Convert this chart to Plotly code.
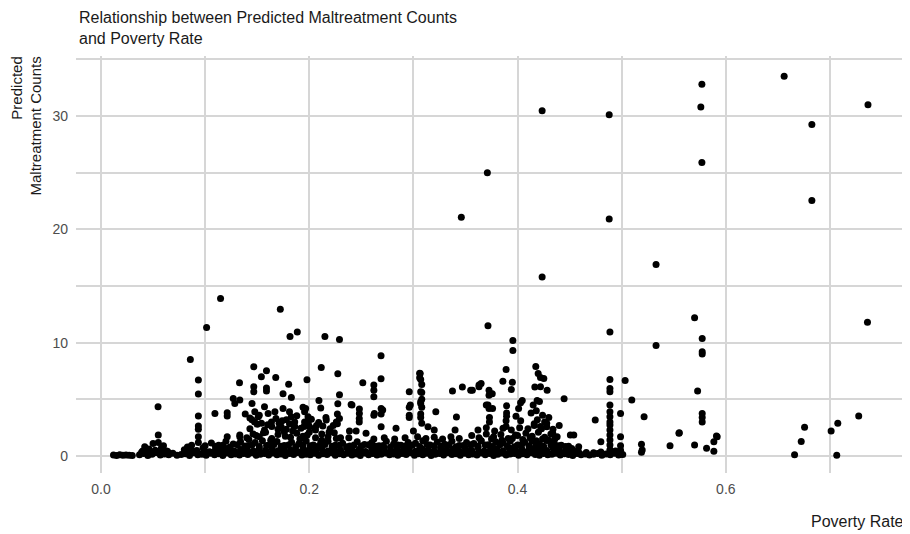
import plotly.graph_objects as go

# ---------------- data ----------------
# Tall outliers
high_x = [0.1148, 0.1014, 0.0858, 0.1722, 0.1815, 0.1885, 0.2150, 0.2290, 0.2689, 0.3716,
          0.3955, 0.3955, 0.4887, 0.5330, 0.5700, 0.5773, 0.5773, 0.5773, 0.3460, 0.3710,
          0.4236, 0.4236, 0.4880, 0.4880, 0.5330, 0.5770, 0.5760, 0.5770, 0.6560, 0.6826,
          0.6826, 0.7365, 0.7360]
high_y = [13.89, 11.34, 8.52, 12.95, 10.54, 10.93, 10.54, 10.28, 8.84, 11.50,
          10.19, 9.31, 10.95, 9.75, 12.20, 10.37, 9.00, 9.20, 21.06, 25.00,
          30.46, 15.80, 30.10, 20.90, 16.90, 32.80, 30.80, 25.90, 33.50, 29.25,
          22.55, 31.00, 11.80]

# Middle band (roughly 2 to 8)
mid_x = [0.0548, 0.0935, 0.0935, 0.0935, 0.0935, 0.0935, 0.1094, 0.1212, 0.1212, 0.1270,
         0.1333, 0.1285, 0.1330, 0.1467, 0.1467, 0.1467, 0.1385, 0.1430, 0.1475, 0.1589,
         0.1540, 0.1678, 0.1589, 0.1589, 0.1802, 0.1748, 0.1828, 0.2093, 0.2290, 0.2274,
         0.2110, 0.1965, 0.2402, 0.2481, 0.2481, 0.2620, 0.2690, 0.2690, 0.2163, 0.2270,
         0.2290, 0.2260, 0.2480, 0.2480, 0.2115, 0.2274, 0.2689, 0.1978, 0.2514, 0.2620,
         0.2620, 0.2620, 0.2960, 0.2960, 0.2960, 0.3060, 0.3060, 0.1450, 0.1570, 0.1605,
         0.1748, 0.1810, 0.1828, 0.1860, 0.1860, 0.1730, 0.1477, 0.1510, 0.1637, 0.1680,
         0.1780, 0.1541, 0.1940, 0.1955, 0.1988, 0.1955, 0.2000, 0.2070, 0.3890, 0.4175,
         0.4198, 0.4220, 0.4252, 0.3859, 0.3940, 0.4166, 0.4284, 0.4447, 0.4029, 0.3895,
         0.3726, 0.3726, 0.3716, 0.3726, 0.3650, 0.3630, 0.3566, 0.3470, 0.3375, 0.3413,
         0.3215, 0.3065, 0.3070, 0.3070, 0.3070, 0.3070, 0.3080, 0.3070, 0.3070, 0.2970,
         0.3140, 0.3200, 0.3730, 0.3730, 0.3890, 0.3890, 0.3985, 0.4010, 0.4280, 0.4030,
         0.4150, 0.4180, 0.4210, 0.4240, 0.4190, 0.4260, 0.4160, 0.4230, 0.4300, 0.4130,
         0.2410, 0.2625, 0.2705, 0.2690, 0.2833, 0.2960, 0.3080, 0.3080, 0.3080, 0.3080,
         0.3550, 0.3630, 0.3757, 0.3700, 0.3760, 0.3895, 0.3895, 0.4045, 0.4887, 0.4887,
         0.4887, 0.4887, 0.4887, 0.4887, 0.4887, 0.4887, 0.4887, 0.5033, 0.5097, 0.4989,
         0.4746, 0.5215, 0.5729, 0.5773, 0.5773, 0.5773, 0.5550, 0.6756, 0.7011, 0.7075,
         0.7276, 0.3950, 0.4220, 0.4188]
mid_y = [4.34, 6.70, 5.46, 3.52, 2.64, 2.35, 3.76, 3.81, 3.52, 5.08,
         4.93, 4.64, 6.46, 7.87, 6.10, 5.67, 3.70, 3.35, 3.00, 7.52,
         6.99, 6.93, 6.00, 5.73, 6.32, 5.49, 5.17, 4.90, 5.40, 4.60,
         4.23, 4.20, 4.55, 4.14, 3.76, 3.60, 4.20, 3.70, 3.17, 3.70,
         3.30, 3.00, 3.30, 3.00, 7.81, 7.25, 6.81, 6.72, 6.46, 6.26,
         5.81, 5.22, 5.67, 4.30, 3.40, 7.30, 6.90, 4.64, 4.34, 3.76,
         4.20, 3.90, 3.46, 3.00, 2.60, 2.58, 3.90, 3.46, 3.00, 3.30,
         3.20, 2.90, 4.30, 3.90, 3.46, 3.00, 2.60, 2.70, 7.64, 7.90,
         7.28, 6.93, 6.84, 6.60, 5.87, 6.08, 5.81, 5.05, 4.70, 4.43,
         5.81, 5.37, 4.49, 4.20, 6.40, 6.10, 5.81, 6.08, 5.73, 3.44,
         3.90, 7.28, 6.75, 5.67, 4.78, 4.64, 4.30, 3.70, 3.40, 4.49,
         2.58, 2.29, 3.40, 3.00, 3.10, 2.60, 3.50, 4.20, 2.58, 3.10,
         4.50, 4.00, 4.80, 3.60, 3.20, 3.00, 2.70, 2.40, 3.40, 3.80,
         4.49, 3.76, 4.05, 2.58, 2.44, 3.60, 6.30, 5.60, 5.00, 2.90,
         5.80, 6.26, 5.50, 4.50, 4.20, 3.80, 3.50, 4.90, 6.75, 5.96,
         5.67, 4.49, 3.90, 3.46, 3.00, 2.73, 2.29, 6.67, 4.93, 3.76,
         3.17, 3.46, 5.73, 3.76, 3.40, 3.00, 2.00, 2.53, 2.20, 2.88,
         3.52, 6.50, 6.10, 4.90]

# Lowest row, values near zero
base_x = [0.012, 0.015, 0.018, 0.021, 0.024, 0.027, 0.030,
          0.037, 0.041, 0.045, 0.049, 0.053, 0.057, 0.061, 0.065, 0.069, 0.073,
          0.077, 0.081, 0.085, 0.089, 0.093, 0.097, 0.101, 0.105, 0.109, 0.113,
          0.117, 0.121, 0.125, 0.129, 0.133, 0.137, 0.141, 0.145, 0.149, 0.153,
          0.157, 0.161, 0.165, 0.169, 0.173, 0.177, 0.181, 0.185, 0.189, 0.193,
          0.197, 0.201, 0.205, 0.209, 0.213, 0.217, 0.221, 0.225, 0.229, 0.233,
          0.237, 0.241, 0.245, 0.249, 0.253, 0.257, 0.261, 0.265, 0.269, 0.273,
          0.277, 0.281, 0.285, 0.289, 0.293, 0.297, 0.301, 0.305, 0.309, 0.313,
          0.317, 0.321, 0.325, 0.329, 0.333, 0.337, 0.341, 0.345, 0.349, 0.353,
          0.357, 0.361, 0.365, 0.369, 0.373, 0.377, 0.381, 0.385, 0.389, 0.393,
          0.397, 0.401, 0.405, 0.409, 0.413, 0.417, 0.421, 0.425, 0.429, 0.433,
          0.437, 0.441, 0.445, 0.449, 0.453, 0.457, 0.461, 0.465, 0.469, 0.473,
          0.477, 0.481, 0.485, 0.489, 0.493, 0.497, 0.501]
base_y = [0.08, 0.05, 0.10, 0.06, 0.09, 0.07, 0.05,
          0.10, 0.22, 0.05, 0.15, 0.30, 0.08, 0.18, 0.12, 0.25, 0.06,
          0.14, 0.20, 0.04, 0.28, 0.10, 0.16, 0.07, 0.24, 0.12, 0.19,
          0.05, 0.26, 0.11, 0.17, 0.08, 0.22, 0.13, 0.29, 0.06, 0.15,
          0.21, 0.09, 0.27, 0.12, 0.18, 0.05, 0.23, 0.14, 0.30, 0.08,
          0.16, 0.11, 0.25, 0.07, 0.20, 0.13, 0.28, 0.06, 0.19, 0.10,
          0.24, 0.09, 0.17, 0.04, 0.26, 0.12, 0.21, 0.08, 0.15, 0.27,
          0.10, 0.18, 0.06, 0.23, 0.14, 0.29, 0.07, 0.20, 0.11, 0.25,
          0.05, 0.16, 0.22, 0.09, 0.28, 0.13, 0.19, 0.06, 0.24, 0.10,
          0.17, 0.08, 0.26, 0.12, 0.21, 0.05, 0.15, 0.27, 0.09, 0.18,
          0.23, 0.07, 0.20, 0.11, 0.29, 0.14, 0.06, 0.22, 0.10, 0.16,
          0.25, 0.08, 0.19, 0.13, 0.04, 0.21, 0.12, 0.18, 0.09, 0.15,
          0.22, 0.06, 0.17, 0.11, 0.24, 0.08, 0.14]

# Second row (about 0.4 - 0.75)
row2_x = [0.040, 0.046, 0.052, 0.058, 0.064,
          0.080, 0.086, 0.092, 0.098, 0.104, 0.110, 0.116, 0.122, 0.128, 0.134,
          0.140, 0.146, 0.152, 0.158, 0.164, 0.170, 0.176, 0.182, 0.188, 0.194,
          0.200, 0.206, 0.212, 0.218, 0.224, 0.230, 0.236, 0.242, 0.248, 0.254,
          0.260, 0.266, 0.272, 0.278, 0.284, 0.290, 0.296, 0.302, 0.308, 0.314,
          0.320, 0.326, 0.332, 0.338, 0.344, 0.350, 0.356, 0.362, 0.368, 0.374,
          0.380, 0.386, 0.392, 0.398, 0.404, 0.410, 0.416, 0.422, 0.428, 0.434,
          0.440, 0.446, 0.452, 0.458, 0.489, 0.494]
row2_y = [0.45, 0.62, 0.50, 0.70, 0.40,
          0.55, 0.65, 0.48, 0.72, 0.38, 0.60, 0.52, 0.68, 0.44, 0.58,
          0.70, 0.42, 0.63, 0.50, 0.75, 0.46, 0.66, 0.54, 0.40, 0.71,
          0.57, 0.49, 0.69, 0.43, 0.62, 0.52, 0.74, 0.45, 0.60, 0.39,
          0.67, 0.51, 0.73, 0.44, 0.58, 0.48, 0.70, 0.41, 0.64, 0.55,
          0.47, 0.72, 0.53, 0.61, 0.40, 0.68, 0.50, 0.75, 0.43, 0.59,
          0.65, 0.46, 0.71, 0.52, 0.62, 0.44, 0.69, 0.56, 0.48, 0.73,
          0.60, 0.42, 0.66, 0.50, 0.53, 0.45]

# Third row (about 0.8 - 1.4)
row3_x = [0.042, 0.050, 0.055, 0.060, 0.083, 0.087, 0.0935, 0.100,
          0.106, 0.113, 0.120, 0.127, 0.134, 0.141, 0.148, 0.155, 0.162, 0.169,
          0.176, 0.183, 0.190, 0.197, 0.204, 0.211, 0.218, 0.225, 0.232, 0.239,
          0.246, 0.253, 0.260, 0.267, 0.274, 0.281, 0.288, 0.295, 0.302, 0.309,
          0.316, 0.323, 0.330, 0.337, 0.344, 0.351, 0.358, 0.365, 0.372, 0.379,
          0.386, 0.393, 0.400, 0.407, 0.414, 0.421, 0.428, 0.435, 0.442, 0.449,
          0.4587, 0.4887, 0.4887, 0.4800, 0.5190, 0.5464, 0.5700, 0.5885]
row3_y = [0.82, 1.10, 1.20, 0.90, 0.80, 0.95, 1.20, 0.90,
          1.15, 0.95, 1.30, 1.05, 1.25, 0.90, 1.20, 1.35, 1.00, 1.28,
          0.92, 1.22, 1.08, 1.32, 0.98, 1.18, 1.30, 0.94, 1.12, 0.88,
          1.26, 1.02, 1.16, 0.90, 1.30, 1.06, 0.95, 1.20, 1.12, 1.34,
          0.96, 1.24, 1.04, 1.30, 0.92, 1.18, 1.10, 1.35, 1.00, 1.26,
          1.14, 1.32, 0.98, 1.22, 1.30, 1.08, 1.36, 1.18, 0.95, 0.85,
          0.82, 0.97, 1.41, 1.26, 1.03, 0.91, 0.97, 1.26]

# Fourth row (about 1.5 - 2.2)
row4_x = [0.055, 0.0935, 0.1212, 0.1333, 0.1333,
          0.140, 0.146, 0.152, 0.158, 0.164, 0.170, 0.176, 0.182, 0.188, 0.194,
          0.200, 0.206, 0.212, 0.218, 0.224, 0.230, 0.238, 0.2386, 0.245, 0.2545,
          0.262, 0.272, 0.282, 0.292, 0.304, 0.312, 0.320, 0.328, 0.336, 0.344,
          0.356, 0.363, 0.370, 0.377, 0.384, 0.391, 0.398, 0.400, 0.408, 0.414,
          0.420, 0.426, 0.432, 0.4338, 0.438, 0.454, 0.4507, 0.4887, 0.4989, 0.5553,
          0.5917, 0.5910]
row4_y = [1.85, 1.70, 1.70, 1.70, 1.85,
          1.60, 1.95, 1.70, 2.10, 1.55, 1.90, 2.15, 1.65, 2.00, 1.75,
          2.10, 1.60, 1.95, 1.70, 2.05, 1.60, 1.60, 2.20, 2.20, 2.00,
          1.50, 1.60, 1.50, 1.60, 1.70, 1.55, 1.65, 1.50, 1.70, 1.55,
          1.80, 1.60, 1.95, 1.70, 1.90, 1.55, 1.85, 1.80, 2.00, 1.75,
          2.10, 1.65, 1.95, 2.00, 1.70, 1.85, 1.85, 1.85, 1.70, 2.05,
          1.70, 1.76]

# Fifth row (about 2.2 - 2.9)
row5_x = [0.143, 0.150, 0.157, 0.164, 0.171, 0.178, 0.185, 0.192, 0.199, 0.206,
          0.213, 0.220, 0.227, 0.362, 0.370, 0.378, 0.386, 0.394, 0.402, 0.410,
          0.416, 0.422, 0.428, 0.434, 0.440, 0.300, 0.340]
row5_y = [2.40, 2.80, 2.30, 2.60, 2.90, 2.35, 2.70, 2.45, 2.90, 2.30,
          2.65, 2.40, 2.85, 2.30, 2.50, 2.20, 2.45, 2.30, 2.50, 2.40,
          2.85, 2.60, 2.90, 2.35, 2.70, 2.20, 2.30]

# Extra fill row (about 0.25 - 0.45)
row6_x = [0.039, 0.045, 0.051, 0.057, 0.063, 0.081, 0.087, 0.093, 0.099, 0.105,
          0.111, 0.117, 0.123, 0.129, 0.135, 0.141, 0.147, 0.153, 0.159, 0.165,
          0.171, 0.177, 0.183, 0.189, 0.195, 0.201, 0.207, 0.213, 0.219, 0.225,
          0.231, 0.237, 0.243, 0.249, 0.255, 0.261, 0.267, 0.273, 0.279, 0.285,
          0.291, 0.297, 0.303, 0.309, 0.315, 0.321, 0.327, 0.333, 0.339, 0.345,
          0.351, 0.357, 0.363, 0.369, 0.375, 0.381, 0.387, 0.393, 0.399, 0.405,
          0.411, 0.417, 0.423, 0.429, 0.435, 0.441, 0.447, 0.453, 0.459, 0.466,
          0.473, 0.480]
row6_y = [0.32, 0.40, 0.28, 0.36, 0.44, 0.30, 0.38, 0.26, 0.42, 0.34,
          0.29, 0.41, 0.35, 0.27, 0.43, 0.31, 0.39, 0.25, 0.37, 0.45,
          0.33, 0.28, 0.40, 0.36, 0.30, 0.44, 0.26, 0.38, 0.34, 0.42,
          0.29, 0.37, 0.31, 0.45, 0.27, 0.35, 0.41, 0.33, 0.39, 0.25,
          0.43, 0.30, 0.36, 0.28, 0.40, 0.34, 0.44, 0.32, 0.26, 0.38,
          0.42, 0.29, 0.35, 0.31, 0.41, 0.37, 0.27, 0.43, 0.33, 0.39,
          0.30, 0.45, 0.36, 0.28, 0.40, 0.34, 0.38, 0.32, 0.26, 0.30,
          0.28, 0.35]

# Extra fill row (about 0.8 - 1.0)
row7_x = [0.110, 0.117, 0.124, 0.131, 0.138, 0.145, 0.152, 0.159, 0.166, 0.173,
          0.180, 0.187, 0.194, 0.201, 0.208, 0.215, 0.222, 0.229, 0.236, 0.243,
          0.250, 0.257, 0.264, 0.271, 0.278, 0.285, 0.292, 0.299, 0.306, 0.313,
          0.320, 0.327, 0.334, 0.341, 0.348, 0.355, 0.362, 0.369, 0.376, 0.383,
          0.390, 0.397, 0.404, 0.411, 0.418, 0.425, 0.432, 0.439, 0.446]
row7_y = [0.85, 0.95, 0.80, 1.00, 0.88, 0.98, 0.83, 0.93, 1.02, 0.86,
          0.96, 0.81, 0.99, 0.90, 0.84, 1.01, 0.87, 0.94, 0.82, 0.97,
          0.89, 1.00, 0.85, 0.92, 0.80, 0.98, 0.88, 0.95, 0.83, 1.02,
          0.90, 0.86, 0.97, 0.81, 0.93, 1.00, 0.87, 0.96, 0.84, 0.99,
          0.91, 0.82, 1.01, 0.88, 0.94, 0.85, 0.98, 0.90, 0.83]

# Extra points in the dense clusters
row8_x = [0.142, 0.149, 0.156, 0.163, 0.170, 0.177, 0.184, 0.191, 0.198, 0.205,
          0.212, 0.219, 0.226,
          0.145, 0.152, 0.160, 0.167, 0.174, 0.181, 0.188, 0.195, 0.202, 0.209,
          0.216, 0.223,
          0.365, 0.375, 0.385, 0.395, 0.405, 0.412, 0.418, 0.424, 0.430, 0.436]
row8_y = [1.45, 1.80, 2.05, 1.40, 2.35, 1.75, 2.20, 1.50, 1.85, 2.45,
          1.40, 2.10, 1.55,
          3.20, 3.60, 2.75, 3.90, 3.10, 2.85, 3.55, 2.60, 3.25, 2.95,
          3.40, 2.70,
          1.35, 1.50, 1.40, 1.55, 1.45, 1.60, 1.35, 1.50, 1.40, 1.55]

# Sparse low points to the right
sparse_x = [0.5190, 0.5815, 0.5885, 0.6660, 0.6724, 0.7065, 0.5197, 0.4989, 0.4989, 0.4887, 0.4989]
sparse_y = [0.33, 0.68, 0.41, 0.11, 1.29, 0.06, 0.53, 0.90, 0.50, 0.53, 0.15]

groups = [(high_x, high_y), (mid_x, mid_y), (base_x, base_y), (row2_x, row2_y),
          (row3_x, row3_y), (row4_x, row4_y), (row5_x, row5_y), (row6_x, row6_y),
          (row7_x, row7_y), (row8_x, row8_y), (sparse_x, sparse_y)]
for gx, gy in groups:
    assert len(gx) == len(gy), (len(gx), len(gy))

all_x, all_y = [], []
for gx, gy in groups:
    all_x += gx
    all_y += gy

x_ticks = [0.0, 0.2, 0.4, 0.6]
x_tick_text = ["0.0", "0.2", "0.4", "0.6"]
x_minor = [0.1, 0.3, 0.5, 0.7]
y_ticks = [0, 10, 20, 30]
y_minor = [5, 15, 25, 35]

# ---------------- figure ----------------
FONT = "Liberation Sans, Arial, sans-serif"
GRID = "#d6d6d6"
OFF = 8  # page body margin

W, H = 910 - OFF, 534 - OFF
# plot panel in window pixels: left 76, right 906, top 56, bottom 473
L, R, T, B = 76 - OFF, W - (906 - OFF), 56 - OFF, H - (473 - OFF)
pw, ph = W - L - R, H - T - B


def px(wx):  # window x -> paper x
    return (wx - OFF - L) / pw


def py(wy):  # window y -> paper y
    return (H - B - (wy - OFF)) / ph


fig = go.Figure(go.Scatter(
    x=all_x, y=all_y, mode="markers",
    marker=dict(color="black", size=7, line=dict(width=0)),
    hoverinfo="skip", showlegend=False,
))

fig.update_layout(
    width=W, height=H,
    margin=dict(l=L, r=R, t=T, b=B, autoexpand=False),
    paper_bgcolor="white", plot_bgcolor="white",
    font=dict(family=FONT, color="#4d4d4d", size=14),
    xaxis=dict(
        range=[-0.024, 0.773], tickvals=x_ticks, ticktext=x_tick_text,
        showgrid=True, gridcolor=GRID, gridwidth=1.6, zeroline=False, showline=False,
        ticks="", ticklabelstandoff=6, automargin=False,
        tickfont=dict(size=14, color="#4d4d4d"),
        minor=dict(tickvals=x_minor, showgrid=True, gridcolor=GRID, gridwidth=1.6, ticks=""),
    ),
    yaxis=dict(
        range=[-1.5, 35.29], tickvals=y_ticks,
        showgrid=True, gridcolor=GRID, gridwidth=1.6, zeroline=False, showline=False,
        ticks="", ticklabelstandoff=7, automargin=False,
        tickfont=dict(size=14, color="#4d4d4d"),
        minor=dict(tickvals=y_minor, showgrid=True, gridcolor=GRID, gridwidth=1.6, ticks=""),
    ),
    annotations=[
        dict(text="Relationship between Predicted Maltreatment Counts<br>and Poverty Rate",
             xref="paper", yref="paper", x=px(77), y=py(28.5),
             xanchor="left", yanchor="middle", align="left", showarrow=False,
             font=dict(family=FONT, size=16, color="#1a1a1a")),
        dict(text="Poverty Rate", xref="paper", yref="paper",
             x=px(906), y=py(521), xanchor="right", yanchor="middle",
             showarrow=False, font=dict(family=FONT, size=16, color="#1a1a1a")),
        dict(text="Predicted<br>Maltreatment Counts", textangle=-90, align="right",
             xref="paper", yref="paper", x=px(26), y=py(55),
             xanchor="center", yanchor="top", showarrow=False,
             font=dict(family=FONT, size=15, color="#1a1a1a")),
    ],
)

fig.write_html("out.html")
